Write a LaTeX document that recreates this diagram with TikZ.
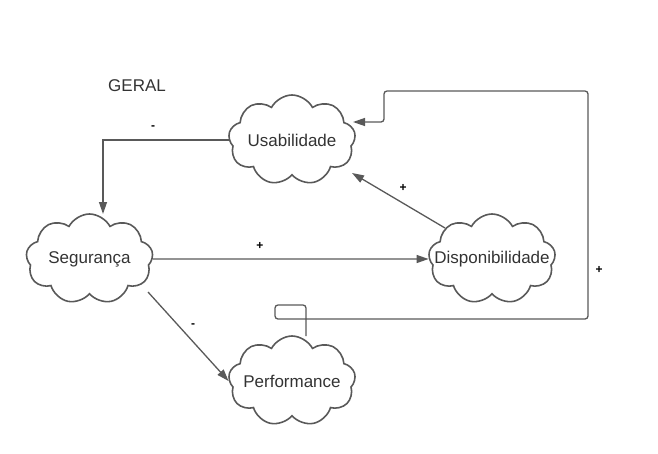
\documentclass[tikz,border=0pt]{standalone}
\usepackage{fontspec}
\setmainfont{Liberation Sans}
\usetikzlibrary{shapes.symbols,arrows.meta}
\definecolor{ln}{HTML}{595959}
\definecolor{tx}{HTML}{333333}
\tikzset{
  cl/.style={cloud, cloud puffs=9, cloud puff arc=125, cloud ignores aspect,
    minimum width=127pt, minimum height=90pt, draw=ln, line width=1.6pt, inner sep=0pt},
  lbl/.style={text=tx, font=\fontsize{17}{20}\selectfont, inner sep=0pt},
  sgn/.style={text=black, font=\fontsize{12}{14}\selectfont\bfseries, inner sep=0pt},
  arr/.style={draw=ln, line width=1.3pt, -{Triangle[length=12pt,width=8pt]}},
}
\begin{document}
\begin{tikzpicture}[x=1pt,y=-1pt]
\useasboundingbox (0,0) rectangle (658,453);
\node[cl] (Usa) at (292,140) {};
\node[cl] (Seg) at (89.5,259) {};
\node[cl] (Disp) at (492,259) {};
\node[cl] (Perf) at (292,381) {};
\node[lbl] (tUsa) at (Usa.center) {Usabilidade};
\node[lbl] (tSeg) at (Seg.center) {Segurança};
\node[lbl] (tDisp) at (Disp.center) {Disponibilidade};
\node[lbl] (tPerf) at (Perf.center) {Performance};
\node[lbl] (geral) at (137,86) {GERAL};
% connectors
\draw[arr] (Usa.west) -| ([shift={(13.5,-45)}]Seg.center);
\draw[arr] (Seg.east) -- (Disp.west);
\draw[arr] ([shift={(58.5,33)}]Seg.center) -- (Perf.west);
\draw[arr] ([shift={(-47,-31)}]Disp.center) -- ([shift={(60,33)}]Usa.center);
\coordinate (ue) at (353,122);
\draw[arr, rounded corners=3pt] ([shift={(14,-45)}]Perf.center) -- (306,305) -- (275,305) -- (275,319) -- (588,319) -- (588,91) -- (384,91) -- (384,122) -- (ue);
% signs
\node[sgn] (s1) at (153,128) {-};
\node[sgn] (s2) at (260,246) {+};
\node[sgn] (s3) at (193,326) {-};
\node[sgn] (s4) at (403,188) {+};
\node[sgn] (s5) at (599,270) {+};
\end{tikzpicture}
\end{document}
